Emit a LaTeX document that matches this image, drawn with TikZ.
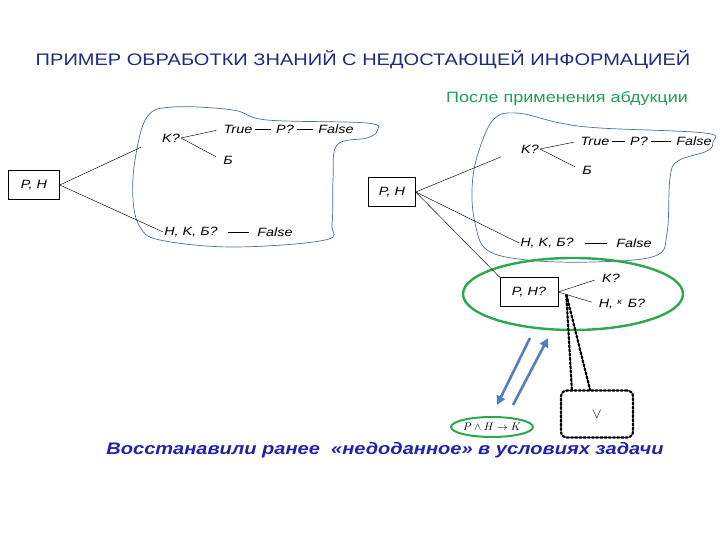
\documentclass[tikz,border=0pt]{standalone}
\usepackage{fontspec}
\setmainfont{Liberation Sans}[FakeStretch=1.2]
\usetikzlibrary{calc,arrows.meta,shapes.geometric}
\definecolor{titleblue}{HTML}{1F2A80}
\definecolor{subgreen}{HTML}{1E9E5A}
\definecolor{blobblue}{HTML}{4A6E9C}
\definecolor{ringgreen}{HTML}{2DA84E}
\definecolor{arrowblue}{HTML}{4F7FC0}
\definecolor{notedblue}{HTML}{2222AA}
\tikzset{
  lbl/.style={font=\itshape\fontsize{12}{13}\selectfont, inner sep=1pt},
  box/.style={draw, line width=0.5pt, inner sep=0pt, minimum height=29pt, font=\itshape\fontsize{12}{13}\selectfont},
  tie/.style={line width=0.45pt},
  dashline/.style={line width=0.45pt, shorten <=2pt, shorten >=4pt},
  blob/.style={draw=blobblue, line width=0.7pt},
  ring/.style={draw=ringgreen, line width=2.4pt},
  flow/.style={draw=arrowblue, line width=2.6pt, -{Triangle[length=9pt,width=9pt]}},
  callout/.style={line width=2.2pt, dotted, line cap=round}
}
\begin{document}
\begin{tikzpicture}[x=1pt,y=-1pt]
\useasboundingbox (0,0) rectangle (720,540);

\node[titleblue, font=\fontsize{16.7}{18}\selectfont] (title) at (363,60) {ПРИМЕР ОБРАБОТКИ ЗНАНИЙ С НЕДОСТАЮЩЕЙ ИНФОРМАЦИЕЙ};
\node[subgreen, font=\fontsize{15}{16}\selectfont] (after) at (567,99) {После применения абдукции};

% left tree
\draw[blob] plot[smooth cycle, tension=0.6] coordinates {(147,117) (173,107) (233,110) (267,120) (367,123) (377,131) (367,138) (337,145) (333,180) (332,224) (325,240) (233,247) (160,240) (140,227) (133,200) (135,160)};
\node[box, minimum width=51pt] (ph) at (34,185) {P, H};
\node[lbl] (k1) at (171,138) {K?};
\node[lbl] (t1) at (238,129) {True};
\node[lbl] (p1) at (285,129) {P?};
\node[lbl] (f1) at (336,129) {False};
\node[lbl] (b1) at (228,160) {Б};
\node[lbl] (h1) at (191,232) {H, K, Б?};
\node[lbl] (f2) at (275,232) {False};
\draw[tie] (ph.east) -- ($(ph.east)!0.8!(k1.west)$);
\draw[tie] (ph.east) -- (h1.west);
\draw[tie] (k1.east) -- ($(k1.east)!0.85!(t1.west)$);
\draw[tie] (k1.east) -- ($(k1.east)!0.85!(b1.west)$);
\draw[dashline] (t1.east) -- (p1.west);
\draw[dashline] (p1.east) -- (f1.west);
\draw[tie] ($(h1.east)!0.25!(f2.west)$) -- ($(h1.east)!0.8!(f2.west)$);

% right tree
\draw[blob] plot[smooth cycle, tension=0.6] coordinates {(493,120) (517,113) (560,123) (600,128) (705,133) (713,142) (707,151) (678,161) (670,178) (667,233) (655,256) (593,262) (527,260) (487,250) (475,223) (472,190) (477,157)};
\node[box, minimum width=47pt] (ph2) at (392,192) {P, H};
\node[lbl] (k2) at (530,149) {K?};
\node[lbl] (t2) at (595,141) {True};
\node[lbl] (p2) at (639,141) {P?};
\node[lbl] (f3) at (694,141) {False};
\node[lbl] (b2) at (587,170) {Б};
\node[lbl] (h2) at (547,243) {H, K, Б?};
\node[lbl] (f4) at (634,243) {False};
\draw[tie] (ph2.east) -- ($(ph2.east)!0.82!(k2.west)$);
\draw[tie] (ph2.east) -- (h2.west);
\draw[tie] (k2.east) -- ($(k2.east)!0.85!(t2.west)$);
\draw[tie] (k2.east) -- ($(k2.east)!0.85!(b2.west)$);
\draw[dashline] (t2.east) -- (p2.west);
\draw[dashline] (p2.east) -- (f3.west);
\draw[tie] ($(h2.east)!0.25!(f4.west)$) -- ($(h2.east)!0.8!(f4.west)$);

% abduction
\draw[ring] (573,294) ellipse[x radius=110, y radius=36];
\node[box, minimum width=58pt] (pq) at (529,292) {P, H?};
\node[lbl] (k3) at (611,278) {K?};
\node[lbl] (h3) at (622,304) {H, \raisebox{3pt}{\fontsize{8}{8}\selectfont к}\, Б?};
\draw[tie] (ph2.east) -- (pq.north west);
\draw[tie] (pq.east) -- ($(pq.east)!0.85!(k3.west)$);
\draw[tie] (pq.east) -- ($(pq.east)!0.85!(h3.west)$);

\node[draw, callout, rounded corners=6pt, minimum width=72pt, minimum height=47pt, font=\fontsize{15}{15}\selectfont] (vee) at (597,414) {$\vee$};
\coordinate (tip) at ($(pq.east)+(8,2)$);
\draw[callout] ($(vee.north west)+(12,0)$) -- (tip) -- ($(vee.north west)+(30,0)$);

\node[ring, line width=2pt, ellipse, minimum width=70pt, minimum height=20pt, inner sep=0pt, font=\fontsize{11}{11}\selectfont] (rule) at (492,427) {$P\wedge H\rightarrow K$};
\coordinate (up1) at (530,338);
\coordinate (dn1) at (497,405);
\coordinate (dn2) at (513,405);
\coordinate (up2) at (548,338);
\draw[flow] (up1) -- (dn1);
\draw[flow] (dn2) -- (up2);

\node[notedblue, font=\bfseries\itshape\fontsize{16.7}{18}\selectfont] (note) at (385,450) {Восстанавили ранее \ «недоданное» в условиях задачи};
\end{tikzpicture}
\end{document}
